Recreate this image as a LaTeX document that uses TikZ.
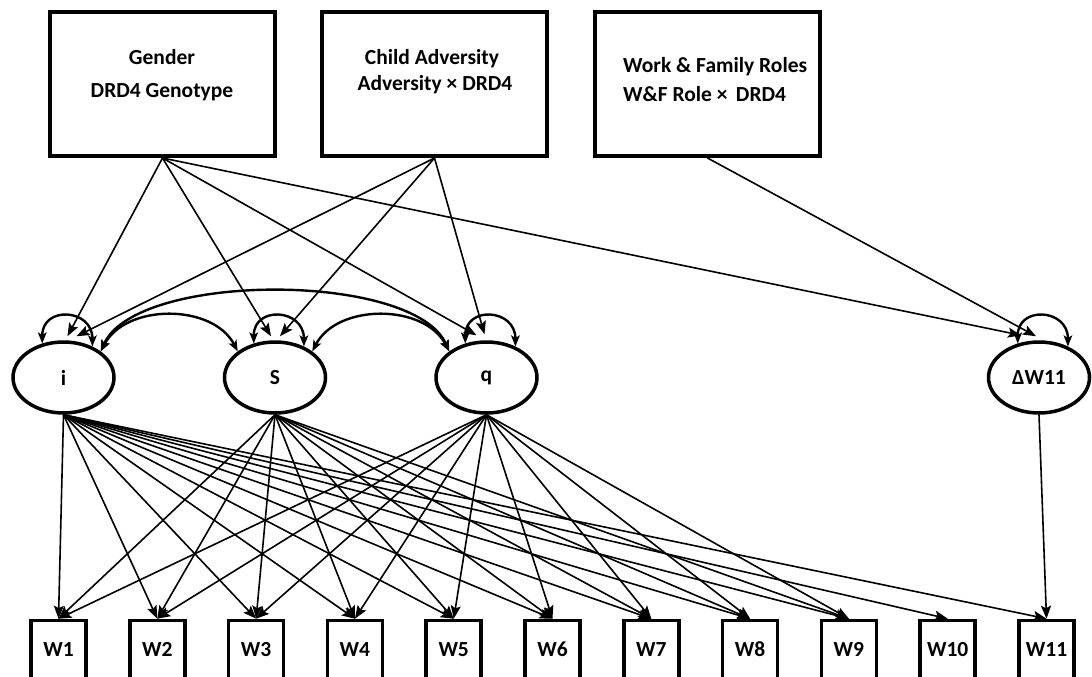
\documentclass[tikz,border=0pt]{standalone}
\usepackage{fontspec}
\setmainfont{Carlito}
\usetikzlibrary{arrows.meta,shapes.geometric}
\begin{document}
\begin{tikzpicture}[x=1pt,y=-1pt,
  topbox/.style={draw,line width=4pt,minimum width=225pt,minimum height=144pt,inner sep=0pt},
  lbl/.style={font=\fontsize{21.5}{24}\selectfont\bfseries,inner sep=0pt},
  latent/.style={draw,ellipse,line width=3.5pt,minimum width=101pt,minimum height=71pt,inner sep=0pt,font=\fontsize{21.5}{24}\selectfont\bfseries},
  obs/.style={draw,line width=3.6pt,minimum width=55pt,minimum height=58pt,inner sep=0pt,font=\fontsize{21.5}{24}\selectfont\bfseries},
  reg/.style={line width=1.6pt,-{Stealth[length=13pt,width=10pt,inset=2.5pt]}},
  cov/.style={line width=2.4pt,{Stealth[length=11pt,width=8.5pt,inset=2.5pt]}-{Stealth[length=11pt,width=8.5pt,inset=2.5pt]}}
]
\useasboundingbox (0,0) rectangle (1092,677);
\clip (0,0) rectangle (1092,677);

% top boxes
\node[topbox] (g) at (162.5,84) {};
\node[topbox] (c) at (434.5,84) {};
\node[topbox] (w) at (707.5,84) {};
\node[lbl,anchor=base] (gt1) at (162,65) {Gender};
\node[lbl,anchor=base] (gt2) at (162,97) {DRD4 Genotype};
\node[lbl,anchor=base] (ct1) at (432,64) {Child Adversity};
\node[lbl,anchor=base] (ct2) at (435,90) {Adversity × DRD4};
\node[lbl,anchor=base west] (wt1) at (623,73) {Work \& Family Roles};
\node[lbl,anchor=base west] (wt2) at (623,101) {W\&F Role × \,DRD4};

% latents
\node[latent] (i) at (63.5,377.5) {i};
\node[latent] (s) at (275,377.5) {S};
\node[latent] (q) at (486.5,377.5) {q};
\node[latent] (d) at (1039,377.5) {ΔW11};

% observed
\foreach \k in {1,...,11} {
  \node[obs] (w\k) at ({58.5+98.8*(\k-1)},649.5) {W\k};
}

% regressions from top boxes
\draw[reg] (g.south) -- ([xshift=4pt,yshift=4pt]i.north);
\draw[reg] (c.south) -- ([xshift=13pt,yshift=4pt]i.north);
\draw[reg] (g.south) -- ([xshift=-4pt,yshift=4pt]s.north);
\draw[reg] (c.south) -- ([xshift=5pt,yshift=4pt]s.north);
\draw[reg] (g.south) -- ([xshift=-10pt,yshift=5pt]q.north);
\draw[reg] (c.south) -- ([xshift=-2pt,yshift=6pt]q.north);
\draw[reg] (g.south) -- ([xshift=-18pt,yshift=5pt]d.north);
\draw[reg] (w.south) -- ([xshift=-3pt,yshift=4pt]d.north);

% variances
\foreach \n in {i,s,q,d} {
  \draw[cov] (\n.122) .. controls +(0,-38) and +(0,-38) .. (\n.47);
}

% covariances
\draw[cov] (i.35) .. controls +(25,-48) and +(-25,-48) .. (s.145);
\draw[cov] (s.35) .. controls +(25,-48) and +(-25,-48) .. (q.145);
\draw[cov] (i.35) .. controls +(35,-80) and +(-35,-80) .. (q.145);

% loadings
\foreach \k in {1,...,11} {
  \draw[reg] (i.south) -- (w\k.north);
}
\foreach \k in {1,...,9} {
  \draw[reg] (s.south) -- (w\k.north);
  \draw[reg] (q.south) -- (w\k.north);
}
\draw[reg] (d.south) -- (w11.north);
\end{tikzpicture}
\end{document}
